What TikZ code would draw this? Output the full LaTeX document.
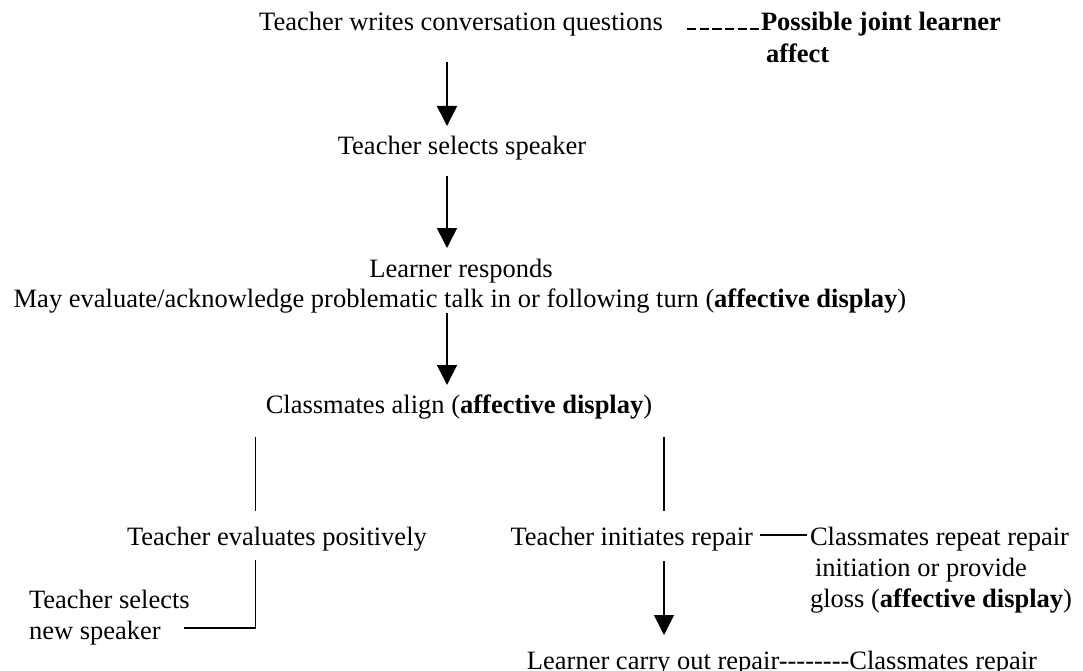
\documentclass[tikz,border=0pt]{standalone}
\usepackage{fontspec}
\setmainfont{Liberation Serif}
\usetikzlibrary{arrows.meta,calc}
\newcommand\hy{-\kern0pt}
\begin{document}
\begin{tikzpicture}[x=1pt,y=-1pt,
  txt/.style={inner sep=0pt,outer sep=0pt,font=\fontsize{26.5}{31}\selectfont,anchor=base},
  lft/.style={txt,anchor=base west},
  rgt/.style={txt,anchor=base east},
  conn/.style={line width=1.6pt,black},
  arr/.style={conn,-{Triangle[length=20pt,width=20pt]}},
  dashline/.style={line width=1.8pt,dash pattern=on 9.5pt off 3.2pt}]
\fill[white] (0,0) rectangle (1083,671);
\useasboundingbox (0,0) rectangle (1083,671);
% column coordinates
\coordinate (colA) at (447,0);
\coordinate (colL) at (255.5,0);
\coordinate (colR) at (664,0);
% nodes
\node[txt] (q) at (461,31) {Teacher writes conversation questions};
\node[lft] (pj) at (761,31) {\textbf{Possible joint learner}};
\node[lft] (af) at (766,63) {\textbf{affect}};
\node[txt] (tss) at (462,155) {Teacher selects speaker};
\node[txt] (lr) at (461,277) {Learner responds};
\node[txt] (me) at (460,307) {May evaluate/acknowledge problematic talk in or following turn (\textbf{affective display})};
\node[txt] (ca) at (459,413) {Classmates align (\textbf{affective display})};
\node[lft] (tep) at (127,545) {Teacher evaluates positively};
\node[rgt] (tir) at (753,545) {Teacher initiates repair};
\node[lft] (crr) at (810,545) {Classmates repeat repair};
\node[lft] (iop) at (815,576) {initiation or provide};
\node[lft] (gl) at (810,607) {gloss (\textbf{affective display})};
\node[lft] (ts) at (29,608) {Teacher selects};
\node[lft] (ns) at (29,639) {new speaker};
\node[rgt] (lco) at (1037,669) {Learner carry out repair\hy\hy\hy\hy\hy\hy\hy\hy Classmates repair};
% connectors
\draw[dashline] ($(q.base east)+(24,-2)$) -- ($(pj.base west)+(-2,-2)$);
\draw[arr] ($(q.base -| colA)+(0,31)$) -- ($(tss.base -| colA)+(0,-29)$);
\draw[arr] ($(tss.base -| colA)+(0,21)$) -- ($(lr.base -| colA)+(0,-29)$);
\draw[arr] ($(me.base -| colA)+(0,6)$) -- ($(ca.base -| colA)+(0,-28)$);
\draw[conn] ($(ca.base -| colL)+(0,24)$) -- ($(tep.base -| colL)+(0,-34)$);
\draw[conn] ($(ca.base -| colR)+(0,24)$) -- ($(tir.base -| colR)+(0,-34)$);
\draw[conn] ($(tir.base east)+(7,-10)$) -- ($(crr.base west)+(-3,-10)$);
\draw[conn] ($(tep.base -| colL)+(0,15)$) |- ($(ns.base west)+(154.5,-11)$);
\draw[arr] ($(tir.base -| colR)+(0,16)$) -- ($(lco.base -| colR)+(0,-34)$);
\end{tikzpicture}
\end{document}
